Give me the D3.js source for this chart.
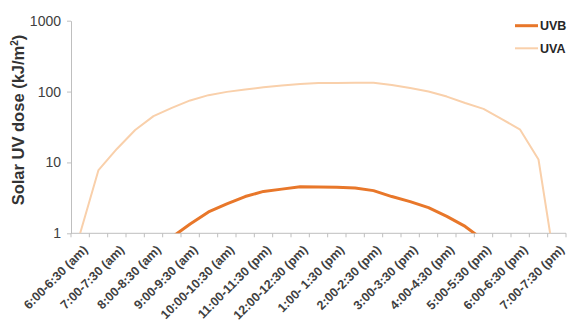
<!DOCTYPE html>
<html><head><meta charset="utf-8">
<script src="https://cdn.jsdelivr.net/npm/d3@7/dist/d3.min.js"></script>
<style>
html,body{margin:0;padding:0;background:#fff;}
svg{display:block;font-family:"Liberation Sans",Arial,sans-serif;}
</style></head>
<body><svg id="chart" width="571" height="327"></svg>
<script>
const categories = ["6:00-6:30 (am)","6:30-7:00 (am)","7:00-7:30 (am)","7:30-8:00 (am)","8:00-8:30 (am)","8:30-9:00 (am)",
"9:00-9:30 (am)","9:30-10:00 (am)","10:00-10:30 (am)","10:30-11:00 (am)","11:00-11:30 (pm)","11:30-12:00 (pm)",
"12:00-12:30 (pm)","12:30-1:00 (pm)","1:00- 1:30 (pm)","1:30-2:00 (pm)","2:00-2:30 (pm)","2:30-3:00 (pm)",
"3:00-3:30 (pm)","3:30-4:00 (pm)","4:00-4:30 (pm)","4:30-5:00 (pm)","5:00-5:30 (pm)","5:30-6:00 (pm)",
"6:00-6:30 (pm)","6:30-7:00 (pm)","7:00-7:30 (pm)"];
const tickLabels = ["6:00-6:30 (am)","7:00-7:30 (am)","8:00-8:30 (am)","9:00-9:30 (am)","10:00-10:30 (am)","11:00-11:30 (pm)",
"12:00-12:30 (pm)","1:00- 1:30 (pm)","2:00-2:30 (pm)","3:00-3:30 (pm)","4:00-4:30 (pm)","5:00-5:30 (pm)","6:00-6:30 (pm)","7:00-7:30 (pm)"];
const uvb = [null,null,null,null,null,0.88,1.35,2.0,2.6,3.3,3.9,4.2,4.55,4.5,4.47,4.36,4.0,3.3,2.8,2.3,1.73,1.25,0.8,null,null,null,null];
const uva = [1.0,7.8,15.5,28.7,45,58.8,75,89,99,107,115,122,128,132,132,133,133,124,112,100,85,69,57,41,29,11,0.25];
const yTicks = [1,10,100,1000];
const seriesNames = ["UVB","UVA"];
const colors = {UVB:"#e8772a", UVA:"#f9d0ab"};

const svg = d3.select("#chart");
const mLeft = 71, mRight = 566, mTop = 20.7, mBottom = 233.3;
const x = d3.scaleBand().domain(categories).range([mLeft, mRight]).padding(0);
const y = d3.scaleLog().domain([1,1000]).range([mBottom, mTop]);
const cx = c => x(c) + x.bandwidth()/2;

svg.append("defs").append("clipPath").attr("id","clip")
  .append("rect").attr("x",mLeft).attr("y",0).attr("width",mRight-mLeft+10).attr("height",mBottom);

// Y axis
const yAxis = svg.append("g").attr("transform",`translate(${mLeft},0)`)
  .call(d3.axisLeft(y).tickValues(yTicks).tickFormat(d3.format("d")).tickSize(4).tickSizeOuter(0));
yAxis.select(".domain").attr("stroke","#bfbfbf");
yAxis.selectAll(".tick line").attr("stroke","#bfbfbf");
yAxis.selectAll(".tick text").attr("fill","#404040").attr("font-size","14px").attr("x",-10);

// X axis line and ticks at category boundaries
const xg = svg.append("g");
xg.append("line").attr("x1",mLeft).attr("x2",mRight).attr("y1",mBottom).attr("y2",mBottom).attr("stroke","#bfbfbf");
const bounds = categories.map(c => x(c)).concat([x(categories[categories.length-1]) + x.bandwidth()]);
xg.selectAll(".xt").data(bounds).enter().append("line")
  .attr("x1",d=>d).attr("x2",d=>d).attr("y1",mBottom).attr("y2",mBottom+4).attr("stroke","#bfbfbf");
xg.selectAll(".xl").data(tickLabels).enter().append("text")
  .attr("transform",d=>`translate(${cx(d)+2},${mBottom+11}) rotate(-45)`)
  .attr("text-anchor","end").attr("dy","0.7em")
  .attr("font-size","12.5px").attr("font-weight","bold").attr("fill","#404040")
  .text(d=>d);

// Y title
svg.append("text").attr("transform",`translate(24,120) rotate(-90)`)
  .attr("text-anchor","middle").attr("font-size","16.5px").attr("font-weight","bold").attr("fill","#333")
  .html('Solar UV dose (kJ/m<tspan dy="-6" font-size="10px">2</tspan><tspan dy="6">)</tspan>');

// Lines
const line = d3.line().defined(d=>d.v!=null).x(d=>cx(d.c)).y(d=>y(d.v));
const plot = svg.append("g").attr("clip-path","url(#clip)");
const data = {UVB: uvb, UVA: uva};
["UVA","UVB"].forEach(name => {
  plot.append("path")
    .datum(categories.map((c,i)=>({c, v:data[name][i]})))
    .attr("fill","none").attr("stroke",colors[name])
    .attr("stroke-width", name==="UVB"?3:2)
    .attr("stroke-linejoin","round")
    .attr("d", line);
});

// Legend
const lg = svg.append("g");
seriesNames.forEach((n,i)=>{
  const ly = 25.7 + i*22.6;
  lg.append("line").attr("x1",515).attr("x2",538).attr("y1",ly).attr("y2",ly)
    .attr("stroke",colors[n]).attr("stroke-width", n==="UVB"?3:2);
  lg.append("text").attr("x",540).attr("y",ly).attr("dy","0.35em")
    .attr("font-size","12.5px").attr("font-weight","bold").attr("fill","#262626").text(n);
});
</script></body></html>
